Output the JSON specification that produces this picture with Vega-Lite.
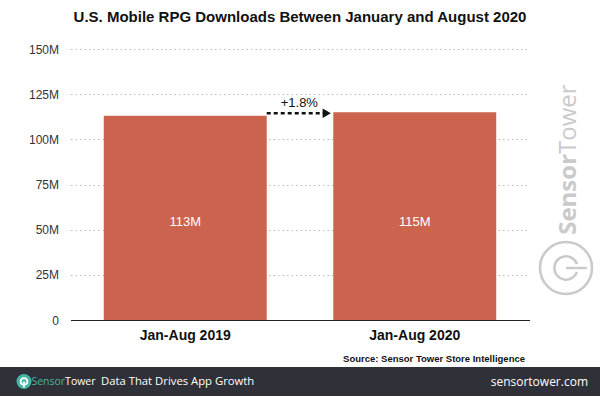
{
  "$schema": "https://vega.github.io/schema/vega-lite/v6.json",
  "padding": {"top": 10, "bottom": 0, "left": 0, "right": 0},
  "background": "white",
  "spacing": 47,
  "bounds": "flush",
  "center": true,
  "config": {
    "view": {"stroke": null},
    "font": "Liberation Sans"
  },
  "vconcat": [
    {
      "width": 459,
      "height": 271,
      "title": {"text": "U.S. Mobile RPG Downloads Between January and August 2020", "fontSize": 15, "fontWeight": "bold", "font": "Liberation Sans", "color": "#111111", "offset": 18, "anchor": "middle"},
      "data": {"values": [
        {"period": "Jan-Aug 2019", "downloads": 113000000},
        {"period": "Jan-Aug 2020", "downloads": 115000000}
      ]},
      "resolve": {"scale": {"x": "independent"}, "axis": {"x": "independent"}},
      "layer": [
        {
          "layer": [
            {
              "mark": {"type": "bar", "color": "#cb634f"},
              "encoding": {
                "x": {"field": "period", "type": "nominal", "sort": null,
                  "scale": {"paddingInner": 0.29, "paddingOuter": 0.145},
                  "axis": {"title": "Source: Sensor Tower Store Intelligence", "titleFontSize": 9.5, "titleFontWeight": "bold", "titleColor": "#111111", "titleAnchor": "end", "titleX": 454, "titleAlign": "right", "titlePadding": 11,
                    "labelAngle": 0, "labelFontSize": 14, "labelFontWeight": "bold", "labelColor": "#111111", "labelPadding": 8, "ticks": false, "domainColor": "#222222", "domainWidth": 1, "zindex": 1}},
                "y": {"field": "downloads", "type": "quantitative",
                  "scale": {"domain": [0, 150000000], "nice": false},
                  "axis": {"title": null, "values": [0, 25000000, 50000000, 75000000, 100000000, 125000000, 150000000],
                    "labelExpr": "datum.value == 0 ? '0' : format(datum.value, '~s')",
                    "labelFontSize": 12, "labelColor": "#333333", "labelPadding": 12, "ticks": false, "domain": false,
                    "grid": true, "gridColor": "#bbbbbb", "gridDash": [1.5, 3], "gridWidth": 1}}
              }
            },
            {
              "mark": {"type": "text", "color": "white", "fontSize": 13, "baseline": "middle"},
              "encoding": {
                "x": {"field": "period", "type": "nominal", "sort": null},
                "y": {"datum": 54500000},
                "text": {"field": "downloads", "type": "quantitative", "format": "~s"}
              }
            },
            {
              "data": {"values": [{"change": "+1.8%"}]},
              "mark": {"type": "rule", "strokeDash": [4, 3], "strokeWidth": 2.5, "color": "#111111"},
              "encoding": {
                "x": {"datum": "Jan-Aug 2019", "bandPosition": 1},
                "x2": {"datum": "Jan-Aug 2020", "bandPosition": -0.05},
                "y": {"datum": 114500000}
              }
            },
            {
              "data": {"values": [{"change": "+1.8%"}]},
              "mark": {"type": "point", "shape": "triangle-right", "filled": true, "color": "#111111", "size": 90, "opacity": 1},
              "encoding": {
                "x": {"datum": "Jan-Aug 2020", "bandPosition": -0.04},
                "y": {"datum": 114500000}
              }
            },
            {
              "data": {"values": [{"change": "+1.8%"}]},
              "mark": {"type": "text", "fontSize": 13, "color": "#111111", "baseline": "middle"},
              "encoding": {
                "x": {"datum": "Jan-Aug 2019", "bandPosition": 1.2},
                "y": {"datum": 120000000},
                "text": {"field": "change"}
              }
            }
          ]
        },
        {
          "data": {"values": [{"brand": "SensorTower"}]},
          "layer": [
            {
              "mark": {"type": "text", "text": "Sensor", "angle": 270, "align": "right", "baseline": "alphabetic", "font": "Open Sans", "fontWeight": "bold", "fontSize": 24, "color": "#cacaca"},
              "encoding": {
                "x": {"datum": 1.101, "type": "quantitative", "scale": {"domain": [0, 1], "nice": false, "zero": false}, "axis": null},
                "y": {"datum": 91900000}
              }
            },
            {
              "mark": {"type": "text", "text": "Tower", "angle": 270, "align": "left", "baseline": "alphabetic", "font": "Open Sans", "fontWeight": "normal", "fontSize": 24, "color": "#cacaca"},
              "encoding": {
                "x": {"datum": 1.101, "type": "quantitative"},
                "y": {"datum": 91900000}
              }
            },
            {
              "mark": {"type": "point", "shape": "M-1,0A1,1,0,1,1,1,0A1,1,0,1,1,-1,0M0.423,0.154A0.45,0.45,0,1,1,0.423,-0.154M0,0L0.8,0", "filled": false, "stroke": "#cacaca", "strokeWidth": 2.6, "size": 2704, "opacity": 1},
              "encoding": {
                "x": {"datum": 1.0795, "type": "quantitative"},
                "y": {"datum": 28800000}
              }
            }
          ]
        }
      ]
    },
    {
      "width": 600,
      "height": 29,
      "view": {"fill": "#2f3038", "stroke": null},
      "data": {"values": [{"brand": "SensorTower", "tagline": "Data That Drives App Growth", "site": "sensortower.com"}]},
      "layer": [
        {
          "mark": {"type": "point", "shape": "circle", "filled": true, "color": "#45b5a6", "size": 225, "opacity": 1},
          "encoding": {"x": {"datum": 0.04, "type": "quantitative", "scale": {"domain": [0, 1], "nice": false, "zero": false}, "axis": null}}
        },
        {
          "mark": {"type": "point", "shape": "M-0.154,0.423A0.45,0.45,0,1,1,0.154,0.423M0,0L0,0.8", "filled": false, "stroke": "white", "strokeWidth": 1.8, "size": 225, "opacity": 1},
          "encoding": {"x": {"datum": 0.04, "type": "quantitative"}}
        },
        {
          "mark": {"type": "text", "text": "Sensor", "align": "right", "baseline": "middle", "font": "Open Sans", "fontSize": 10.5, "color": "#45b5a6"},
          "encoding": {"x": {"datum": 0.1085, "type": "quantitative"}}
        },
        {
          "mark": {"type": "text", "text": "Tower", "align": "left", "baseline": "middle", "font": "Open Sans", "fontSize": 10.5, "color": "white"},
          "encoding": {"x": {"datum": 0.1085, "type": "quantitative"}}
        },
        {
          "mark": {"type": "text", "align": "left", "baseline": "middle", "font": "Open Sans", "fontSize": 11.3, "color": "white"},
          "encoding": {"x": {"datum": 0.1683, "type": "quantitative"}, "text": {"field": "tagline"}}
        },
        {
          "mark": {"type": "text", "align": "right", "baseline": "middle", "font": "Open Sans", "fontSize": 12, "color": "white"},
          "encoding": {"x": {"datum": 0.98, "type": "quantitative"}, "text": {"field": "site"}}
        }
      ]
    }
  ]
}
